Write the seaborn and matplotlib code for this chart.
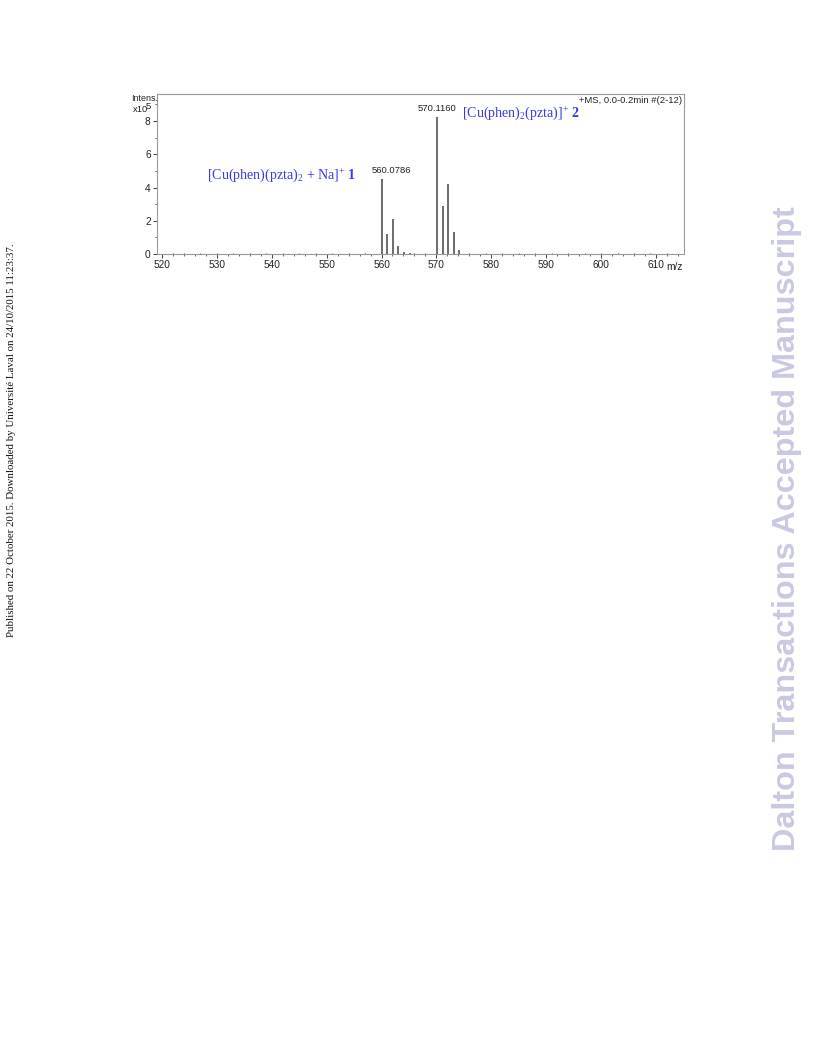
import numpy as np
import matplotlib
matplotlib.use("Agg")
import matplotlib.pyplot as plt
import seaborn as sns

# centroid peaks (m/z, intensity x10^5)
mz = [560.08, 561.08, 562.08, 563.08, 564.08, 565.1,
      570.12, 571.12, 572.12, 573.12, 574.12]
intens = [4.5, 1.2, 2.1, 0.45, 0.12, 0.08,
          8.25, 2.9, 4.2, 1.3, 0.25]
# low-level baseline noise
noise_mz = [522, 524, 527, 530, 533, 536, 539, 542, 545, 548, 551, 554, 557,
            566, 568, 576, 579, 582, 585, 588, 591, 594, 597, 600, 603, 606, 609, 612]
noise_int = [0.05, 0.04, 0.06, 0.05, 0.04, 0.05, 0.06, 0.04, 0.05, 0.05, 0.04, 0.06, 0.05,
             0.06, 0.05, 0.05, 0.04, 0.05, 0.04, 0.05, 0.04, 0.05, 0.04, 0.05, 0.04, 0.05, 0.04, 0.05]
xticks = [520, 530, 540, 550, 560, 570, 580, 590, 600, 610]
yticks = [0, 2, 4, 6, 8]

sns.set_style("white")
plt.rcParams['font.family'] = ['Liberation Sans', 'DejaVu Sans']
plt.rcParams['mathtext.fontset'] = 'custom'
plt.rcParams['mathtext.rm'] = 'Liberation Serif'
plt.rcParams['mathtext.it'] = 'Liberation Serif'
plt.rcParams['mathtext.bf'] = 'Liberation Serif:bold'

fig = plt.figure(figsize=(8.16, 10.56), dpi=100)
ax = fig.add_axes([0.1924, 0.7595, 0.6458, 0.1515])

ax.vlines(noise_mz, 0, noise_int, color='#555555', lw=0.8)
ax.vlines(mz, 0, intens, color='#444444', lw=1.1)
ax.axhline(0, color='#888888', lw=0.6)

ax.set_xlim(519.1, 615.1)
ax.set_ylim(0, 9.63)
ax.set_xticks(xticks)
ax.set_yticks(yticks)
ax.set_xticks(np.arange(520, 615, 2), minor=True)
ax.set_yticks([1, 3, 5, 7, 9], minor=True)
ax.tick_params(axis='both', which='major', direction='out', length=3, width=0.6,
               labelsize=7.3, colors='#222222', pad=1.5, bottom=True, left=True)
ax.tick_params(axis='both', which='minor', direction='out', length=1.5, width=0.5,
               bottom=True, left=True)
for s in ax.spines.values():
    s.set_color('#999999')
    s.set_linewidth(0.8)

# axis annotations
ax.text(-0.05, 1.0, 'Intens.', transform=ax.transAxes, fontsize=6.4,
        ha='left', va='top', color='#222222')
ax.text(-0.046, 0.93, 'x10', transform=ax.transAxes, fontsize=6.8,
        ha='left', va='top', color='#222222')
ax.text(-0.021, 0.95, '5', transform=ax.transAxes, fontsize=6.8,
        ha='left', va='top', color='#222222')
ax.text(0.997, 0.985, '+MS, 0.0-0.2min #(2-12)', transform=ax.transAxes,
        fontsize=6.8, ha='right', va='top', color='#222222')
ax.text(0.997, -0.05, 'm/z', transform=ax.transAxes, fontsize=7.3,
        ha='right', va='top', color='#222222')

# peak labels
ax.text(mz[0] + 1.7, intens[0] + 0.25, '560.0786', fontsize=6.8,
        ha='center', va='bottom', color='#222222')
ax.text(mz[6], intens[6] + 0.25, '570.1160', fontsize=6.8,
        ha='center', va='bottom', color='#222222')

blue = '#3a3ae6'
ax.text(528.2, 4.75, r'[Cu(phen)(pzta)$_2$ + Na]$^{+}$ $\mathbf{1}$', fontsize=10.1,
        family='Liberation Serif', color=blue, ha='left', va='center')
ax.text(574.6, 8.5, r'[Cu(phen)$_2$(pzta)]$^{+}$ $\mathbf{2}$', fontsize=10.1,
        family='Liberation Serif', color=blue, ha='left', va='center')

# page decorations
fig.text(0.0147, 0.583,
         'Published on 22 October 2015. Downloaded by Université Laval on 24/10/2015 11:23:37.',
         rotation=90, fontsize=7.8, family='Liberation Serif', ha='center', va='center',
         color='#111111')
fig.text(0.9645, 0.499, 'Dalton Transactions Accepted Manuscript', rotation=90,
         fontsize=23.3, fontweight='bold', ha='center', va='center', color='#c9c9e3')

fig.savefig('out.png', dpi=100)
